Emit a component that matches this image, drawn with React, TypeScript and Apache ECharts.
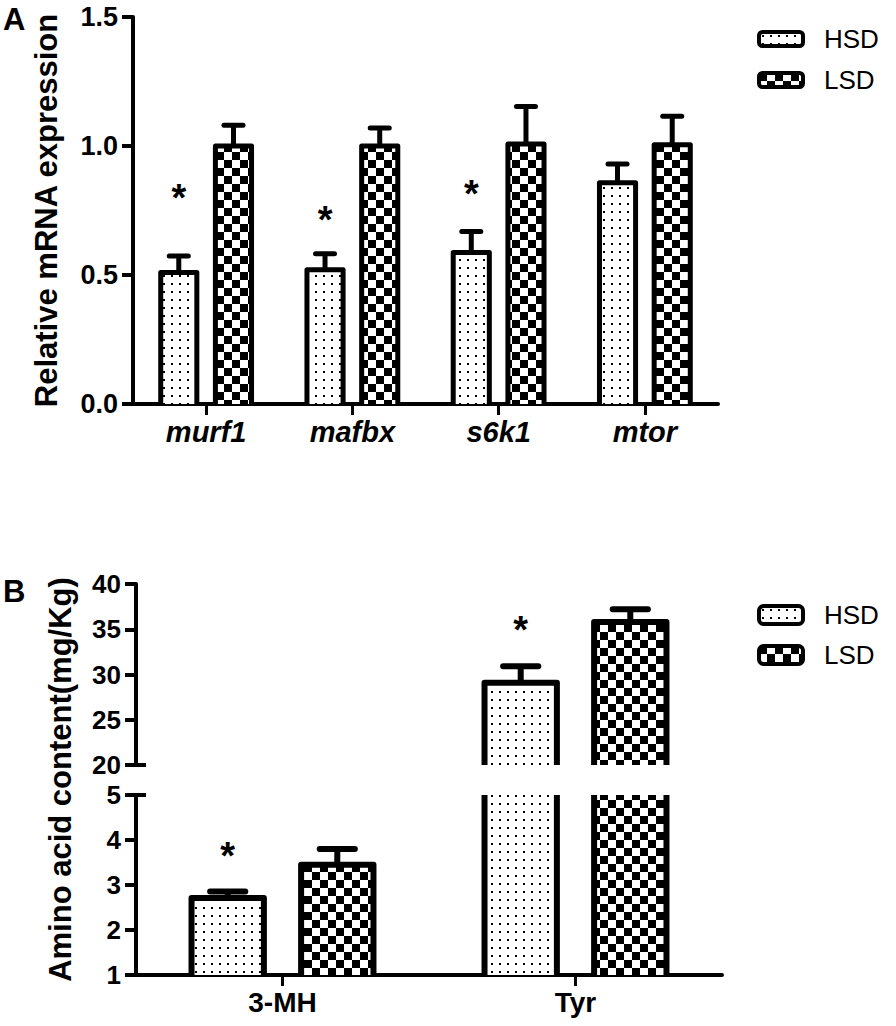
import React, { useEffect, useRef } from 'react';
import * as echarts from 'echarts';

// ---------- Panel A data ----------
const categoriesA = ['murf1', 'mafbx', 's6k1', 'mtor'];
const hsdA = [0.51, 0.52, 0.587, 0.858];
const hsdAErr = [0.064, 0.062, 0.082, 0.072];
const lsdA = [1.0, 1.0, 1.008, 1.005];
const lsdAErr = [0.08, 0.07, 0.145, 0.11];
const starsA: (number | null)[] = [0.829, 0.744, 0.845, null];
const yAxisA = [0, 1.5, 0.5]; // min, max, interval

// ---------- Panel B data ----------
const categoriesB = ['3-MH', 'Tyr'];
const hsdB = [2.71, 29.1];
const hsdBErr = [0.145, 1.8];
const lsdB = [3.45, 35.8];
const lsdBErr = [0.35, 1.4];
const starsB = [3.82, 35.8];
const yAxisBUpper = [20, 40, 5];
const yAxisBLower = [1, 5, 1];

const seriesNames = ['HSD', 'LSD'];
const titleA = 'Relative mRNA expression';
const titleB = 'Amino acid content(mg/Kg)';

const FONT = 'Arial, "Liberation Sans", sans-serif';

function makeDotPattern() {
  const c = document.createElement('canvas');
  c.width = 8; c.height = 8;
  const ctx = c.getContext('2d')!;
  ctx.fillStyle = '#fff'; ctx.fillRect(0, 0, 8, 8);
  ctx.fillStyle = '#000'; ctx.fillRect(3, 3, 2, 2);
  return { image: c, repeat: 'repeat', imageWidth: 8, imageHeight: 8 } as any;
}
function makeCheckPattern() {
  const c = document.createElement('canvas');
  c.width = 16; c.height = 16;
  const ctx = c.getContext('2d')!;
  ctx.fillStyle = '#fff'; ctx.fillRect(0, 0, 16, 16);
  ctx.fillStyle = '#000'; ctx.fillRect(0, 0, 8, 8); ctx.fillRect(8, 8, 8, 8);
  return { image: c, repeat: 'repeat', imageWidth: 16, imageHeight: 16 } as any;
}

function barRenderer(offsetFrac: number, widthFrac: number, lw: number, capFrac: number, fill: any) {
  return (params: any, api: any) => {
    const cat = api.value(0);
    const val = api.value(1);
    const err = api.value(2);
    const cs = params.coordSys;
    const band = api.size([1, 0])[0];
    const p = api.coord([cat, val]);
    const base = api.coord([cat, 0]);
    const cx = p[0] + offsetFrac * band;
    const w = band * widthFrac;
    const x0 = cx - w / 2;
    const x1 = cx + w / 2;
    const top = Math.max(p[1], cs.y);
    const bottom = Math.min(base[1], cs.y + cs.height);
    if (top >= bottom) return null;
    const clippedTop = p[1] < cs.y;
    const children: any[] = [];
    if (!clippedTop && err) {
      const ye = Math.max(api.coord([cat, val + err])[1], cs.y);
      const capW = band * capFrac;
      children.push({ type: 'line', shape: { x1: cx, y1: top, x2: cx, y2: ye }, style: { stroke: '#000', lineWidth: lw } });
      children.push({ type: 'line', shape: { x1: cx - capW / 2, y1: ye, x2: cx + capW / 2, y2: ye }, style: { stroke: '#000', lineWidth: lw, lineCap: 'round' } });
    }
    children.push({ type: 'rect', shape: { x: x0, y: top, width: w, height: bottom - top }, style: { fill, stroke: null } });
    if (clippedTop) {
      children.push({ type: 'line', shape: { x1: x0, y1: top, x2: x0, y2: bottom }, style: { stroke: '#000', lineWidth: lw } });
      children.push({ type: 'line', shape: { x1: x1, y1: top, x2: x1, y2: bottom }, style: { stroke: '#000', lineWidth: lw } });
    } else {
      children.push({ type: 'polyline', shape: { points: [[x0, bottom], [x0, top], [x1, top], [x1, bottom]] }, style: { stroke: '#000', fill: null, lineWidth: lw, lineJoin: 'round' } });
    }
    return { type: 'group', children };
  };
}

function starRenderer(offsetFrac: number, fontSize: number) {
  return (params: any, api: any) => {
    const cat = api.value(0);
    const val = api.value(1);
    const cs = params.coordSys;
    const band = api.size([1, 0])[0];
    const p = api.coord([cat, val]);
    if (p[1] < cs.y || p[1] > cs.y + cs.height) return null;
    return {
      type: 'text',
      x: p[0] + offsetFrac * band,
      y: p[1] + fontSize * 0.22,
      style: {
        text: '*', fill: '#000', fontSize, fontWeight: 'bold', fontFamily: FONT,
        align: 'center', verticalAlign: 'middle', textAlign: 'center', textVerticalAlign: 'middle',
      },
    };
  };
}

export default function App() {
  const ref = useRef<HTMLDivElement>(null);
  useEffect(() => {
    if (!ref.current) return;
    const chart = echarts.init(ref.current, undefined, { renderer: 'svg' });
    const dot = makeDotPattern();
    const check = makeCheckPattern();
    const patterns = [dot, check];

    const OFF = 0.187, WID = 0.247;
    const axisLine = { show: true, onZero: false, lineStyle: { color: '#000', width: 4 } };
    const yTick = { show: true, inside: false, length: 11, lineStyle: { color: '#000', width: 4 } };
    const yLabel = (size: number, fmt?: any) => ({ fontSize: size, fontWeight: 'bold', color: '#000', fontFamily: FONT, margin: 15, formatter: fmt });

    const legendItem = (i: number, bw: number) => ({
      name: seriesNames[i], icon: 'roundRect',
      itemStyle: { color: patterns[i], borderColor: '#000', borderWidth: bw },
    });

    const dataA = [hsdA, lsdA].map((arr, g) => arr.map((v, i) => [i, v, (g === 0 ? hsdAErr : lsdAErr)[i]]));
    const dataB = [hsdB, lsdB].map((arr, g) => arr.map((v, i) => [i, v, (g === 0 ? hsdBErr : lsdBErr)[i]]));

    const series: any[] = [];
    [0, 1].forEach((g) => {
      series.push({
        type: 'custom', name: seriesNames[g], xAxisIndex: 0, yAxisIndex: 0, clip: false,
        data: dataA[g], renderItem: barRenderer(g === 0 ? -OFF : OFF, WID, 5, 0.13, patterns[g]),
      });
      series.push({
        type: 'custom', name: seriesNames[g], xAxisIndex: 1, yAxisIndex: 1, clip: false,
        data: dataB[g], renderItem: barRenderer(g === 0 ? -OFF : OFF, WID, 6, 0.12, patterns[g]),
      });
      series.push({
        type: 'custom', name: seriesNames[g], xAxisIndex: 2, yAxisIndex: 2, clip: false,
        data: dataB[g], renderItem: barRenderer(g === 0 ? -OFF : OFF, WID, 6, 0.12, patterns[g]),
      });
    });
    series.push({
      type: 'custom', name: 'starsA', xAxisIndex: 0, yAxisIndex: 0, clip: false,
      data: starsA.map((v, i) => (v == null ? null : [i, v])).filter(Boolean),
      renderItem: starRenderer(-OFF, 38),
    });
    series.push({
      type: 'custom', name: 'starsBUpper', xAxisIndex: 1, yAxisIndex: 1, clip: false,
      data: starsB.map((v, i) => [i, v]), renderItem: starRenderer(-OFF, 38),
    });
    series.push({
      type: 'custom', name: 'starsBLower', xAxisIndex: 2, yAxisIndex: 2, clip: false,
      data: starsB.map((v, i) => [i, v]), renderItem: starRenderer(-OFF, 38),
    });

    const option: any = {
      animation: false,
      backgroundColor: '#fff',
      grid: [
        { left: 133, top: 17, width: 585, height: 387 },
        { left: 136, top: 584, width: 586, height: 181 },
        { left: 136, top: 795, width: 586, height: 180 },
      ],
      xAxis: [
        {
          gridIndex: 0, type: 'category', data: categoriesA, axisLine,
          axisTick: { show: true, alignWithLabel: true, length: 11, lineStyle: { color: '#000', width: 3 } },
          axisLabel: { fontSize: 29, fontWeight: 'bold', fontStyle: 'italic', color: '#000', fontFamily: FONT, margin: 13 },
          splitLine: { show: false },
        },
        { gridIndex: 1, type: 'category', data: categoriesB, show: false },
        {
          gridIndex: 2, type: 'category', data: categoriesB, axisLine,
          axisTick: { show: true, alignWithLabel: true, length: 11, lineStyle: { color: '#000', width: 3 } },
          axisLabel: { fontSize: 28, fontWeight: 'bold', color: '#000', fontFamily: FONT, margin: 13 },
          splitLine: { show: false },
        },
      ],
      yAxis: [
        {
          gridIndex: 0, type: 'value', min: yAxisA[0], max: yAxisA[1], interval: yAxisA[2],
          axisLine, axisTick: yTick, splitLine: { show: false },
          axisLabel: yLabel(27, (v: number) => v.toFixed(1)),
        },
        {
          gridIndex: 1, type: 'value', min: yAxisBUpper[0], max: yAxisBUpper[1], interval: yAxisBUpper[2],
          axisLine, axisTick: yTick, splitLine: { show: false }, axisLabel: yLabel(26),
        },
        {
          gridIndex: 2, type: 'value', min: yAxisBLower[0], max: yAxisBLower[1], interval: yAxisBLower[2],
          axisLine, axisTick: yTick, splitLine: { show: false }, axisLabel: yLabel(26),
        },
      ],
      legend: [
        {
          left: 757, top: 26, orient: 'vertical', itemWidth: 44, itemHeight: 14, itemGap: 15, padding: 0,
          selectedMode: false,
          textStyle: { fontSize: 26, color: '#000', fontFamily: FONT, padding: [0, 0, 0, 16] },
          data: [legendItem(0, 4), legendItem(1, 4)],
        },
        {
          left: 757, top: 602, orient: 'vertical', itemWidth: 44, itemHeight: 18, itemGap: 14, padding: 0,
          selectedMode: false,
          textStyle: { fontSize: 26, color: '#000', fontFamily: FONT, padding: [0, 0, 0, 16] },
          data: [legendItem(0, 4), legendItem(1, 4)],
        },
      ],
      series,
    };
    chart.setOption(option);

    const yBreakUpper = chart.convertToPixel({ yAxisIndex: 1 }, yAxisBUpper[0]) as number;
    const yBreakLower = chart.convertToPixel({ yAxisIndex: 2 }, yAxisBLower[1]) as number;
    const axisX = chart.convertToPixel({ xAxisIndex: 2 }, 0) as number - (586 / 4);
    const yMidA = ((chart.convertToPixel({ yAxisIndex: 0 }, yAxisA[0]) as number) + (chart.convertToPixel({ yAxisIndex: 0 }, yAxisA[1]) as number)) / 2;
    const yMidB = ((chart.convertToPixel({ yAxisIndex: 1 }, yAxisBUpper[1]) as number) + (chart.convertToPixel({ yAxisIndex: 2 }, yAxisBLower[0]) as number)) / 2;

    const titleStyle = (text: string) => ({
      text, fill: '#000', fontSize: 31, fontWeight: 'bold', fontFamily: FONT,
      align: 'center', verticalAlign: 'middle', textAlign: 'center', textVerticalAlign: 'middle',
    });
    chart.setOption({
      graphic: [
        { type: 'text', left: 3, top: 4, style: { text: 'A', fill: '#000', fontSize: 31, fontWeight: 'bold', fontFamily: FONT } },
        { type: 'text', left: 3, top: 576, style: { text: 'B', fill: '#000', fontSize: 31, fontWeight: 'bold', fontFamily: FONT } },
        { type: 'text', x: 46, y: yMidA, rotation: Math.PI / 2, style: titleStyle(titleA) },
        { type: 'text', x: 60, y: yMidB, rotation: Math.PI / 2, style: titleStyle(titleB) },
        { type: 'line', shape: { x1: axisX, y1: yBreakUpper, x2: axisX + 10, y2: yBreakUpper }, style: { stroke: '#000', lineWidth: 4 } },
        { type: 'line', shape: { x1: axisX, y1: yBreakLower, x2: axisX + 10, y2: yBreakLower }, style: { stroke: '#000', lineWidth: 4 } },
      ],
    });

    return () => chart.dispose();
  }, []);
  return <div ref={ref} style={{ position: 'absolute', left: 0, top: 0, width: 896, height: 1026 }} />;
}
